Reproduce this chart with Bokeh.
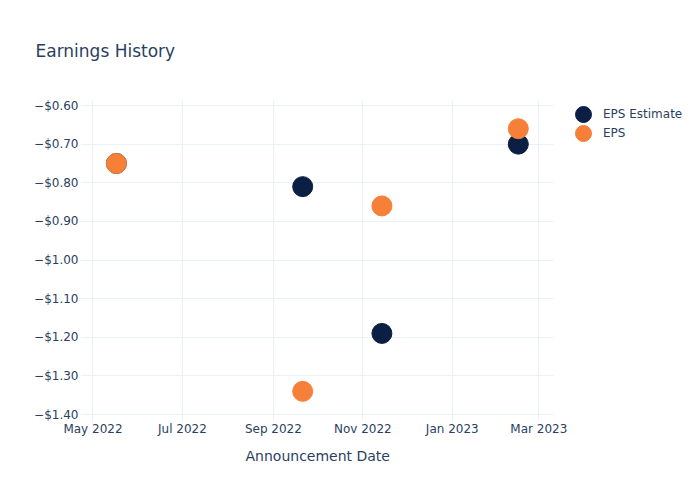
from datetime import datetime
from bokeh.plotting import figure
from bokeh.models import (ColumnDataSource, FixedTicker, CustomJSTickFormatter, Range1d,
                          Legend, LegendItem, DatetimeTickFormatter, BoxAnnotation, Title)
from bokeh.embed import file_html
from bokeh.resources import INLINE

dates = ["2022-05-17", "2022-09-21", "2022-11-14", "2023-02-15"]
eps_estimate = [-0.75, -0.81, -1.19, -0.70]
eps_actual = [-0.75, -1.34, -0.86, -0.66]
x_tick_dates = ["2022-05-01", "2022-07-01", "2022-09-01", "2022-11-01", "2023-01-01", "2023-03-01"]
y_ticks = [-0.6, -0.7, -0.8, -0.9, -1.0, -1.1, -1.2, -1.3, -1.4]

def ts(s):
    return datetime.strptime(s, "%Y-%m-%d")

def ms(s):
    return (ts(s) - datetime(1970, 1, 1)).total_seconds() * 1000.0

src = ColumnDataSource(dict(x=[ts(d) for d in dates], est=eps_estimate, eps=eps_actual))

TXT = "#2a3f5f"
GRID = "#EBF0F8"
FONT = "DejaVu Sans"

W, H = 684, 484
LEFT, TOP, PLOT_RIGHT, BOTTOM = 80, 100, 553, 420
x0 = ms("2022-04-22") + 12 * 3600e3
x1 = ms("2023-03-11")
# extend the frame to the right edge so the legend fits inside it
x1_ext = x0 + (x1 - x0) * (W - LEFT) / (PLOT_RIGHT - LEFT)

p = figure(width=W, height=H, output_backend="svg", toolbar_location=None,
           x_axis_type="datetime",
           x_range=Range1d(x0, x1_ext),
           y_range=Range1d(-1.4155, -0.587),
           min_border_left=LEFT, min_border_right=0, min_border_top=TOP,
           min_border_bottom=H - BOTTOM)
p.outline_line_color = None
p.background_fill_color = "white"
p.border_fill_color = "white"

# white cover over the legend area so the grid stops at the plot's right edge
p.add_layout(BoxAnnotation(left=x1, fill_color="white", fill_alpha=1.0,
                           line_color=None, level="underlay"))

r1 = p.scatter("x", "est", source=src, size=20, color="#0B1F44", line_color="#0B1F44")
r2 = p.scatter("x", "eps", source=src, size=20, color="#F68038", line_color="#F68038")

p.xaxis.ticker = FixedTicker(ticks=[ms(d) for d in x_tick_dates])
p.xaxis.formatter = DatetimeTickFormatter(days="%b %Y", months="%b %Y", years="%b %Y")
p.yaxis.ticker = FixedTicker(ticks=y_ticks)
p.yaxis.formatter = CustomJSTickFormatter(code="""
return (tick < 0 ? "\u2212" : "") + "$" + Math.abs(tick).toFixed(2);
""")

for ax in (p.xaxis[0], p.yaxis[0]):
    ax.axis_line_color = None
    ax.major_tick_line_color = None
    ax.minor_tick_line_color = None
    ax.major_tick_in = 0
    ax.major_tick_out = 0
    ax.major_label_text_color = TXT
    ax.major_label_text_font = FONT
    ax.major_label_text_font_size = "12px"
p.xaxis.major_label_standoff = 1
p.yaxis.major_label_standoff = 2

p.xgrid.grid_line_color = GRID
p.ygrid.grid_line_color = GRID

p.title.text = "Earnings History"
p.title.text_font = FONT
p.title.text_font_size = "17px"
p.title.text_font_style = "normal"
p.title.text_color = TXT
p.title.offset = -45
p.title.vertical_align = "top"
p.title.standoff = 76

xlabel = Title(text="Announcement Date", align="left", offset=165, standoff=14,
               text_font=FONT, text_font_size="14px", text_font_style="normal",
               text_color=TXT)
p.add_layout(xlabel, "below")

common = dict(border_line_color=None, background_fill_alpha=0,
              label_text_font=FONT, label_text_font_size="12px", label_text_color=TXT,
              glyph_width=40, glyph_height=40, spacing=0, padding=0,
              margin=0, label_standoff=0)
leg1 = Legend(items=[LegendItem(label="EPS Estimate", renderers=[r1])],
              location=(483, 286), **common)
leg2 = Legend(items=[LegendItem(label="EPS", renderers=[r2])],
              location=(483, 267), **common)
p.add_layout(leg1)
p.add_layout(leg2)

open("out.html", "w").write(file_html(p, INLINE))
